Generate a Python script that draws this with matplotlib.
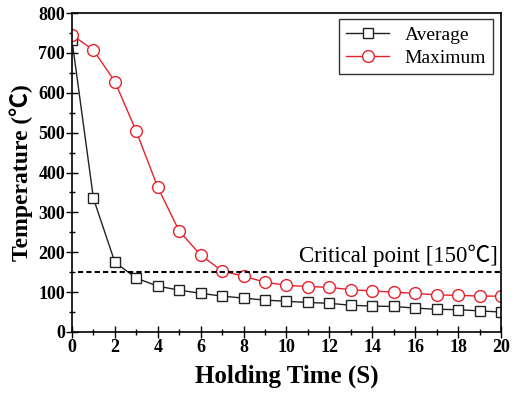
import matplotlib
matplotlib.use("Agg")
import matplotlib.pyplot as plt
from matplotlib.ticker import MultipleLocator

time = list(range(0, 21))
average = [732, 335, 175, 135, 115, 105, 97, 90, 85, 80, 77, 74, 72, 67, 65, 64, 60, 57, 56, 53, 50]
maximum = [745, 707, 628, 503, 363, 253, 193, 153, 140, 125, 117, 114, 112, 106, 103, 100, 97, 93, 92, 90, 90]
critical = 150

fam = ['Liberation Serif', 'Noto Sans CJK JP', 'DejaVu Sans']
plt.rcParams['font.family'] = fam

fig = plt.figure(figsize=(5.12, 3.95), dpi=100)
ax = fig.add_axes([0.1406, 0.1595, 0.8379, 0.8075])

red = '#e8212b'
ax.plot(time, average, color='#222222', lw=1.0, marker='s', ms=6.5, mfc='white',
        mec='#222222', mew=1.0, label='Average')
ax.plot(time, maximum, color=red, lw=1.0, marker='o', ms=8.5, mfc='white',
        mec=red, mew=1.0, label='Maximum')
ax.hlines(critical, 0.3, 20, colors='black', linestyles=(0, (2.5, 1.5)), lw=1.5)
ax.text(19.85, critical + 12, 'Critical point [150\u2103]', ha='right', va='bottom',
        fontsize=16.5)

ax.set_xlim(0, 20)
ax.set_ylim(0, 800)
ax.xaxis.set_major_locator(MultipleLocator(2))
ax.xaxis.set_minor_locator(MultipleLocator(1))
ax.yaxis.set_major_locator(MultipleLocator(100))
ax.yaxis.set_minor_locator(MultipleLocator(50))
ax.tick_params(which='major', direction='inout', length=8, width=1.0, labelsize=13)
ax.tick_params(which='minor', direction='inout', length=5, width=1.0)
ax.tick_params(axis='x', pad=1)
ax.tick_params(axis='y', pad=1)
for lbl in ax.get_xticklabels() + ax.get_yticklabels():
    lbl.set_fontweight('bold')
for s in ax.spines.values():
    s.set_linewidth(1.2)

ax.set_xlabel('Holding Time (S)', fontsize=18, fontweight='bold', labelpad=6)
ax.set_ylabel('Temperature (\u2103)', fontsize=17, fontweight='bold', labelpad=4)

leg = ax.legend(loc='upper right', fontsize=14, frameon=True, fancybox=False,
                edgecolor='black', borderpad=0.35, handlelength=2.2,
                labelspacing=0.3, handletextpad=0.8, borderaxespad=0,
                bbox_to_anchor=(0.981, 0.981))
leg.get_frame().set_linewidth(1.0)

fig.savefig('out.png', dpi=100)
